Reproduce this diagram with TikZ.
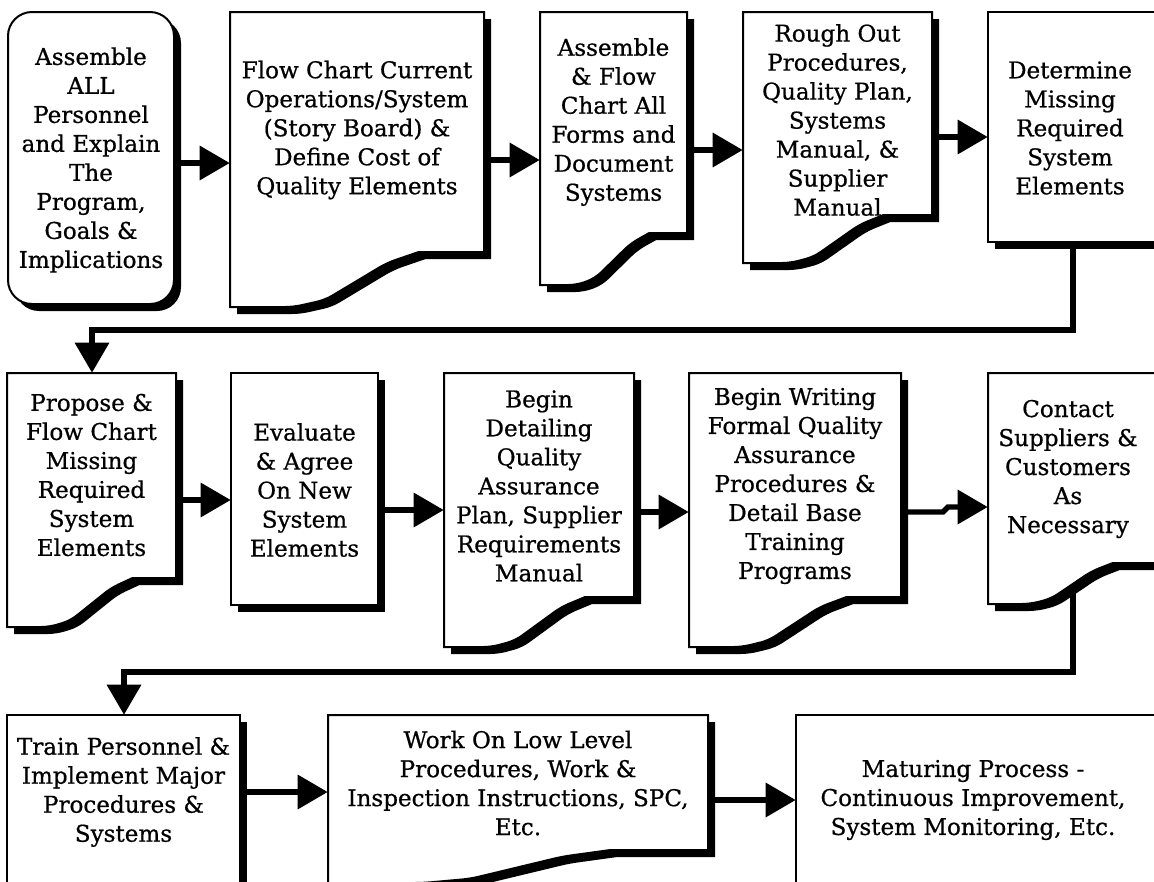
\documentclass[tikz,border=0pt]{standalone}
\usepackage{fontspec}
\setmainfont{DejaVu Serif}
\newfontfamily\boxfont{DejaVu Serif}[FakeBold=0.7]
\usetikzlibrary{arrows.meta}
\pgfdeclarelayer{back}
\pgfdeclarelayer{conns}
\pgfdeclarelayer{shapes}
\pgfsetlayers{back,conns,shapes,main}
% text/anchor node: name, L, R, cy, H, text
\newcommand\boxnode[6]{%
  \node[txt, minimum width={(#3-#2)*0.75pt}, minimum height={#5*0.75pt}] (#1) at ({(#2+#3)/2},#4) {#6};}
% document shape: L, T, R, yr, yl
\newcommand\docshape[5]{%
  \pgfmathsetmacro\dsW{#3-#1}%
  \pgfmathsetmacro\dsD{#5-#4}%
  \pgfmathsetmacro\dsXa{#1+0.743*\dsW}%
  \pgfmathsetmacro\dsXb{#1+0.617*\dsW}%
  \pgfmathsetmacro\dsYb{#4+0.2*\dsD}%
  \pgfmathsetmacro\dsXc{#1+0.375*\dsW}%
  \pgfmathsetmacro\dsYc{#4+0.87*\dsD}%
  \pgfmathsetmacro\dsXd{#1+0.25*\dsW}%
  \path[shadowfill, shift={(7,7)}] (#1,#2) -- (#3,#2) -- (#3,#4) -- (\dsXa,#4) [rounded corners=6pt] -- (\dsXb,\dsYb) -- (\dsXc,\dsYc) -- (\dsXd,#5) [sharp corners] -- (#1,#5) -- cycle;
  \path[boxline] (#1,#2) -- (#3,#2) -- (#3,#4) -- (\dsXa,#4) [rounded corners=6pt] -- (\dsXb,\dsYb) -- (\dsXc,\dsYc) -- (\dsXd,#5) [sharp corners] -- (#1,#5) -- cycle;}
% plain process box: L, T, R, B
\newcommand\rectbox[4]{%
  \path[shadowfill, shift={(7,7)}] (#1,#2) rectangle (#3,#4);
  \path[boxline] (#1,#2) rectangle (#3,#4);}
\begin{document}
\begin{tikzpicture}[x=0.75pt,y=-0.75pt,
  txt/.style={inner sep=0pt, align=center, font=\boxfont\fontsize{17.3pt}{21.75pt}\selectfont},
  boxline/.style={draw=black, line width=1.5pt, fill=white},
  shadowfill/.style={fill=black, draw=none},
  conn/.style={line width=4pt, -{Triangle[length=22.5pt,width=25pt]}},
]
\useasboundingbox (0,0) rectangle (1154,882);
\begin{pgfonlayer}{back}
\fill[white] (0,0) rectangle (1154,882);
\end{pgfonlayer}
\clip (0,0) rectangle (1154,882);

% ---- nodes (text + anchors)
\boxnode{b1}{8}{174}{160}{100}{Assemble\\ALL\\Personnel\\and Explain\\The\\Program,\\Goals \&\\Implications}
\boxnode{b2}{230}{484}{130}{100}{Flow Chart Current\\Operations/System\\(Story Board) \&\\Define Cost of\\Quality Elements}
\boxnode{b3}{540}{687}{122}{100}{Assemble\\\& Flow\\Chart All\\Forms and\\Document\\Systems}
\boxnode{b4}{743}{932}{120}{100}{Rough Out\\Procedures,\\Quality Plan,\\Systems\\Manual, \&\\Supplier\\Manual}
\boxnode{b5}{988}{1152}{128}{228}{Determine\\Missing\\Required\\System\\Elements}
\boxnode{b6}{7}{176}{475}{204}{Propose \&\\Flow Chart\\Missing\\Required\\System\\Elements}
\boxnode{b7}{231}{378}{490}{100}{Evaluate\\\& Agree\\On New\\System\\Elements}
\boxnode{b8}{444}{634}{486}{100}{Begin\\Detailing\\Quality\\Assurance\\Plan, Supplier\\Requirements\\Manual}
\boxnode{b9}{689}{901}{486}{100}{Begin Writing\\Formal Quality\\Assurance\\Procedures \&\\Detail Base\\Training\\Programs}
\boxnode{b10}{988}{1148}{469}{202}{Contact\\Suppliers \&\\Customers\\As\\Necessary}
\boxnode{b11}{7}{240}{792}{154}{Train Personnel \&\\Implement Major\\Procedures \&\\Systems}
\boxnode{b12}{328}{708}{783}{100}{Work On Low Level\\Procedures, Work \&\\Inspection Instructions, SPC,\\Etc.}
\boxnode{b13}{796}{1150}{800}{100}{Maturing Process -\\Continuous Improvement,\\System Monitoring, Etc.}

% ---- shapes
\begin{pgfonlayer}{shapes}
\fill[shadowfill, shift={(7,7)}, rounded corners=18pt] (8,12) rectangle (174,304);
\draw[boxline, rounded corners=18pt] (8,12) rectangle (174,304);
\docshape{230}{12}{484}{252}{307}
\docshape{540}{12}{687}{233}{285}
\docshape{743}{12}{932}{215}{263}
\rectbox{988}{12}{1158}{242}
\docshape{7}{373}{176}{578}{627}
\rectbox{231}{373}{378}{605}
\docshape{444}{373}{634}{597}{647}
\docshape{689}{373}{901}{597}{647}
\docshape{988}{373}{1156}{563}{604}
\rectbox{7}{715}{240}{900}
\docshape{328}{715}{708}{850}{883}
\rectbox{796}{715}{1160}{900}
\end{pgfonlayer}

% ---- connectors
\begin{pgfonlayer}{conns}
\draw[conn] (b1.east |- 0,163) -- (b2.west |- 0,163);
\draw[conn] (b2.east |- 0,160) -- (b3.west |- 0,160);
\draw[conn] (b3.east |- 0,150) -- (b4.west |- 0,150);
\draw[conn] (b4.east |- 0,137) -- (b5.west |- 0,137);
\draw[conn] (b5.south -| 1073,0) |- (92,330) -- (b6.north -| 92,0);
\draw[conn] (b6.east |- 0,500) -- (b7.west |- 0,500);
\draw[conn] (b7.east |- 0,510) -- (b8.west |- 0,510);
\draw[conn] (b8.east |- 0,512) -- (b9.west |- 0,512);
\draw[conn] (b9.east |- 0,512) -- (943,512) -- (948,507) -- (b10.west |- 0,507);
\draw[conn] (b10.south -| 1073,0) |- (124,672) -- (b11.north -| 124,0);
\draw[conn] (b11.east |- 0,792) -- (b12.west |- 0,792);
\draw[conn] (b12.east |- 0,800) -- (b13.west |- 0,800);
\end{pgfonlayer}
\end{tikzpicture}
\end{document}
